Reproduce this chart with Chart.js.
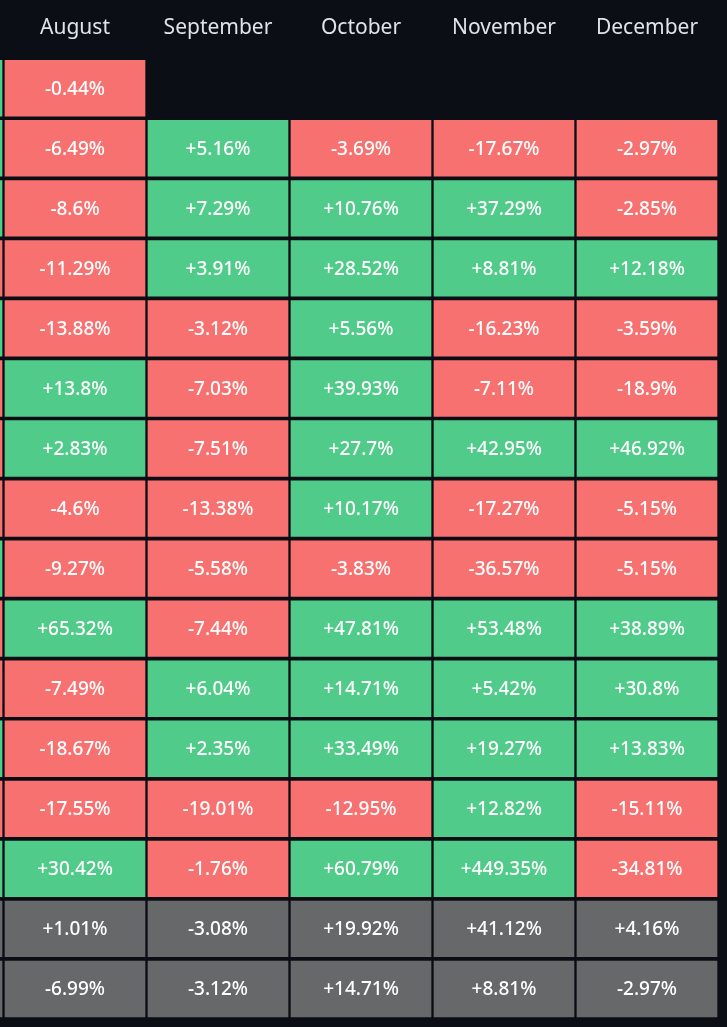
<!DOCTYPE html>
<html><head><meta charset="utf-8">
<script src="https://cdn.jsdelivr.net/npm/chart.js@4/dist/chart.umd.min.js"></script>
<style>html,body{margin:0;padding:0;background:#0b0e15;}#w{width:727px;height:1027px;}</style>
</head><body><div id="w"><canvas id="c"></canvas></div>
<script>
const months = ['July','August','September','October','November','December'];
const rows = ['r1','r2','r3','r4','r5','r6','r7','r8','r9','r10','r11','r12','r13','r14','Average','Median'];
// July column is cut off at the left edge; only its sign/colour is visible (estimated)
const july = [1,1,1,-1,1,-1,-1,-1,1,-1,-1,1,-1,1,0,0];
const august = [-0.44,-6.49,-8.6,-11.29,-13.88,13.8,2.83,-4.6,-9.27,65.32,-7.49,-18.67,-17.55,30.42,1.01,-6.99];
const september = [null,5.16,7.29,3.91,-3.12,-7.03,-7.51,-13.38,-5.58,-7.44,6.04,2.35,-19.01,-1.76,-3.08,-3.12];
const october = [null,-3.69,10.76,28.52,5.56,39.93,27.7,10.17,-3.83,47.81,14.71,33.49,-12.95,60.79,19.92,14.71];
const november = [null,-17.67,37.29,8.81,-16.23,-7.11,42.95,-17.27,-36.57,53.48,5.42,19.27,12.82,449.35,41.12,8.81];
const december = [null,-2.97,-2.85,12.18,-3.59,-18.9,46.92,-5.15,-5.15,38.89,30.8,13.83,-15.11,-34.81,4.16,-2.97];
const cols = [july,august,september,october,november,december];
const GREEN='#51cb8a', RED='#f87171', GRAY='#67686a', BG='#0b0e15';
const datasets = cols.map((vals,ci)=>({
  label: months[ci],
  data: rows.map((r,ri)=> vals[ri]===null ? null : [ci, ci+1]),
  values: vals,
  showText: ci>0,
  backgroundColor: rows.map((r,ri)=> ri>=14 ? GRAY : (vals[ri]>=0 ? GREEN : RED)),
  borderColor: BG,
  borderWidth: {top:2.2,bottom:2.2,left:1.5,right:1.5},
  borderSkipped: false,
  categoryPercentage: 1, barPercentage: 1, grouped: false
}));
function fmt(v){ return (v>0?'+':'')+v+'%'; }
const textPlugin = {id:'txt', afterDatasetsDraw(chart){
  const ctx=chart.ctx; ctx.save();
  ctx.fillStyle='#ffffff'; ctx.font='500 19px "Noto Sans", sans-serif';
  ctx.textAlign='center'; ctx.textBaseline='middle';
  chart.data.datasets.forEach((ds,di)=>{
    if(!ds.showText) return;
    chart.getDatasetMeta(di).data.forEach((el,i)=>{
      const v=ds.values[i]; if(v===null||v===undefined) return;
      const p=el.getProps(['x','y','base'],true);
      ctx.fillText(fmt(v),(p.x+p.base)/2,p.y+1);
    });
  });
  ctx.restore();
}};
new Chart(document.getElementById('c'),{
  type:'bar',
  data:{labels:rows,datasets},
  options:{
    indexAxis:'y', responsive:true, maintainAspectRatio:false, animation:false,
    layout:{padding:{left:0,right:0,top:5,bottom:8}},
    plugins:{legend:{display:false},tooltip:{enabled:false}},
    scales:{
      y:{display:false, offset:true, grid:{display:false}},
      x:{type:'linear', position:'top', min:0.9755, max:6.0595,
         grid:{display:false}, border:{display:false},
         afterBuildTicks(ax){ ax.ticks=[1,2,3,4,5].map(i=>({value:i+0.5})); },
         ticks:{autoSkip:false, maxRotation:0, padding:10, color:'#dfe3ea',
           font:{size:21,family:'"Noto Sans", sans-serif'},
           callback:(v)=>months[Math.round(v-0.5)]}
      }
    }
  },
  plugins:[textPlugin]
});
</script></body></html>
